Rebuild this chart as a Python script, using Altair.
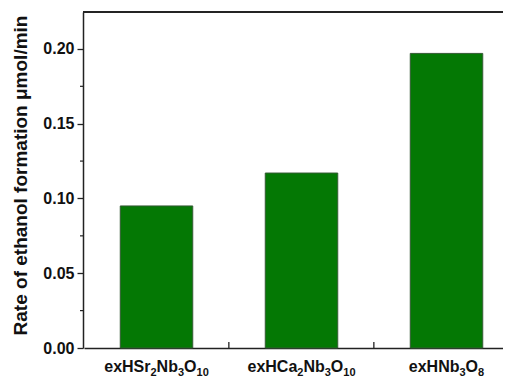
import altair as alt
import pandas as pd

categories = ["exHSr2Nb3O10", "exHCa2Nb3O10", "exHNb3O8"]
rates = [0.095, 0.117, 0.197]
# label pieces: (text, is_subscript)
label_parts = [
    [("exHSr", 0), ("2", 1), ("Nb", 0), ("3", 1), ("O", 0), ("10", 1)],
    [("exHCa", 0), ("2", 1), ("Nb", 0), ("3", 1), ("O", 0), ("10", 1)],
    [("exHNb", 0), ("3", 1), ("O", 0), ("8", 1)],
]
major_ticks = [0.0, 0.05, 0.10, 0.15, 0.20]
minor_ticks = [0.025, 0.075, 0.125, 0.175]
boundary_cats = ["exHSr2Nb3O10", "exHCa2Nb3O10"]

FONT = "Liberation Sans"
MAIN_SIZE, SUB_SIZE = 16, 11
W, H = 420, 336
X_RANGE = [1, 436]
STEP = (X_RANGE[1] - X_RANGE[0]) / len(categories)

# Arial/Liberation Sans Bold advance widths (per em)
ADV = {"e": .556, "x": .556, "H": .722, "S": .667, "r": .389, "N": .722, "b": .611,
       "O": .778, "C": .722, "a": .556}
for d in "0123456789":
    ADV[d] = .556


def seg_width(t, sub):
    size = SUB_SIZE if sub else MAIN_SIZE
    return sum(ADV.get(ch, .6) for ch in t) * size


rows = []
for cat, parts in zip(categories, label_parts):
    total = sum(seg_width(t, s) for t, s in parts)
    cur = STEP / 2 - total / 2
    for t, s in parts:
        rows.append({"cat": cat, "text": t, "sub": s, "dx": cur})
        cur += seg_width(t, s)
seg_df = pd.DataFrame(rows)

df = pd.DataFrame({"cat": categories, "rate": rates})
minor_df = pd.DataFrame({"v": minor_ticks})
bound_df = pd.DataFrame({"cat": boundary_cats})

ydom = [0, 0.2247]

xscale = alt.Scale(domain=categories, range=X_RANGE, paddingInner=0, paddingOuter=0)
yscale = alt.Scale(domain=ydom, nice=False, zero=True)

bars = alt.Chart(df).mark_bar(
    width=alt.RelativeBandSize(0.5), color="#047804", stroke="#345a34", strokeWidth=1
).encode(
    x=alt.X("cat:N", scale=xscale, sort=categories, title=None,
            axis=alt.Axis(labels=False, ticks=False, domainColor="#222",
                          domainWidth=1.5, grid=False)),
    y=alt.Y("rate:Q", scale=yscale, title="Rate of ethanol formation μmol/min",
            axis=alt.Axis(values=major_ticks, format=".2f", tickSize=6, tickWidth=1.3,
                          tickColor="#222", domainColor="#222", domainWidth=1.5,
                          labelFont=FONT, labelFontSize=16, labelFontWeight="bold",
                          labelColor="#111", labelPadding=3, grid=False,
                          titleFont=FONT, titleFontSize=19, titleFontWeight="bold",
                          titleColor="#111", titlePadding=12, titleY=H / 2 - 5)),
)

minor = alt.Chart(minor_df).mark_rule(color="#222", strokeWidth=1.2).encode(
    y=alt.Y("v:Q", scale=yscale),
    x=alt.value(-3),
    x2=alt.value(0),
)

bounds = alt.Chart(bound_df).mark_rule(color="#222", strokeWidth=1.3).encode(
    x=alt.X("cat:N", scale=xscale, bandPosition=0.999),
    y=alt.value(H),
    y2=alt.value(H - 6),
)

top = alt.Chart(df).mark_rule(color="#222", strokeWidth=1.5).encode(
    x=alt.value(0), x2=alt.value(440), y=alt.value(0)
)

main_lbl = alt.Chart(seg_df).transform_filter("datum.sub == 0").mark_text(
    font=FONT, fontSize=MAIN_SIZE, fontWeight="bold", align="left", baseline="alphabetic",
    color="#111"
).encode(
    x=alt.X("cat:N", scale=xscale),
    xOffset=alt.XOffset("dx:Q", scale=None),
    y=alt.value(H + 24),
    text="text:N",
)

sub_lbl = alt.Chart(seg_df).transform_filter("datum.sub == 1").mark_text(
    font=FONT, fontSize=SUB_SIZE, fontWeight="bold", align="left", baseline="alphabetic",
    color="#111"
).encode(
    x=alt.X("cat:N", scale=xscale),
    xOffset=alt.XOffset("dx:Q", scale=None),
    y=alt.value(H + 28),
    text="text:N",
)

chart = alt.layer(bars, minor, bounds, top, main_lbl, sub_lbl).properties(
    width=W, height=H,
    autosize=alt.AutoSizeParams(type="none"),
    padding={"left": 75, "top": 4, "right": 0, "bottom": 29},
).configure_view(stroke=None)

chart.save("out.html", embed_options={"renderer": "svg", "actions": False})
